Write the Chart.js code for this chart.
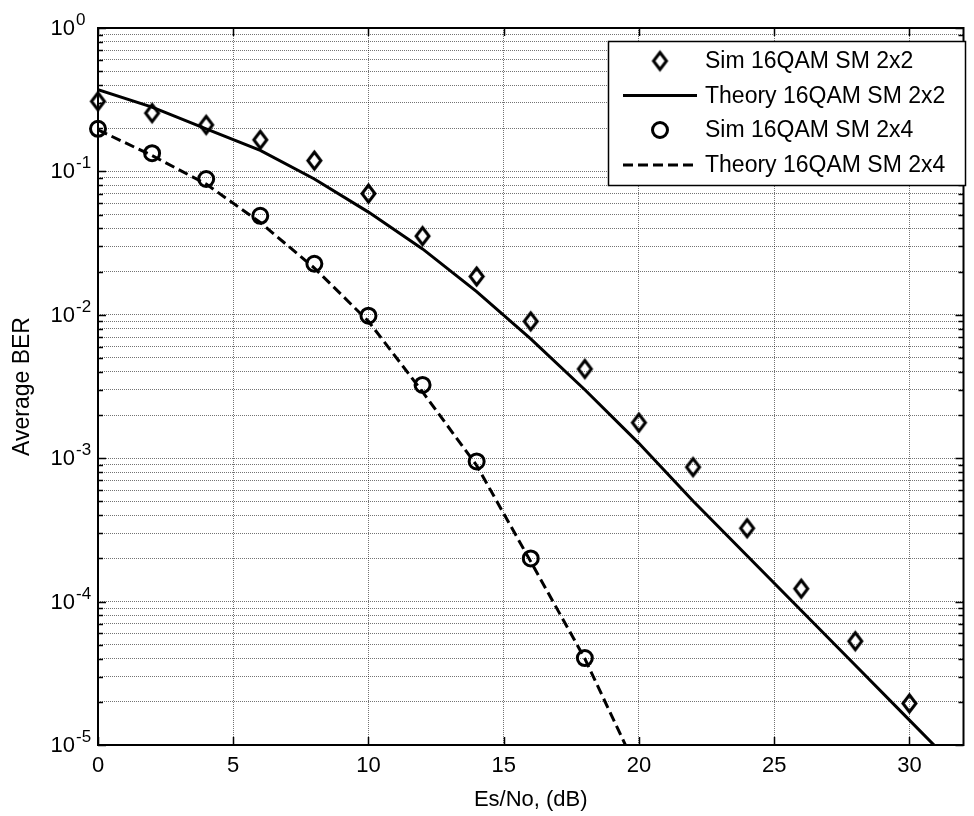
<!DOCTYPE html>
<html><head><meta charset="utf-8">
<script src="https://cdn.jsdelivr.net/npm/chart.js@4.4.0/dist/chart.umd.min.js"></script>
<style>html,body{margin:0;padding:0;background:#fff;}canvas{display:block;}</style>
</head><body>
<canvas id="c" width="974" height="816"></canvas>
<script>
// ---- data ----
const xSim2x2 = [0,2,4,6,8,10,12,14,16,18,20,22,24,26,28,30];
const ySim2x2 = [0.308,0.255,0.211,0.166,0.119,0.070,0.0354,0.0185,0.0090,0.00419,0.00177,8.67e-4,3.25e-4,1.23e-4,5.3e-5,1.95e-5];
const xTheory2x2 = [0,2,4,6,8,10,12,14,16,18,20,22,24,26,28,30,31];
const yTheory2x2 = [0.372,0.281,0.198,0.140,0.0885,0.052,0.0288,0.0145,0.0068,0.0030,0.00127,5.03e-4,2.09e-4,8.67e-5,3.6e-5,1.49e-5,9.6e-6];
const xSim2x4 = [0,2,4,6,8,10,12,14,16,18];
const ySim2x4 = [0.198,0.134,0.0885,0.049,0.0227,0.00986,0.00324,0.00095,2.0e-4,4.04e-5];
const xTheory2x4 = [0,2,4,6,8,10,12,14,16,18,20];
const yTheory2x4 = [0.195,0.129,0.0816,0.044,0.0212,0.009,0.0029,0.00089,1.9e-4,4.0e-5,6.3e-6];
const xTickValues = [0,5,10,15,20,25,30];
const yDecadeExponents = [0,-1,-2,-3,-4,-5];
const yMinorMultipliers = [2,3,4,5,6,7,8,9];
const seriesLabels = ['Sim 16QAM SM 2x2','Theory 16QAM SM 2x2','Sim 16QAM SM 2x4','Theory 16QAM SM 2x4'];
const xAxisTitle = 'Es/No, (dB)';
const yAxisTitle = 'Average BER';

const FONT = "'Liberation Sans', Arial, Helvetica, sans-serif";
Chart.defaults.font.family = FONT;

function pts(xs, ys){ return xs.map((x,i)=>({x:x, y:ys[i]})); }

function makeDiamond(w,h,lw){
  const c=document.createElement('canvas');
  c.width=w+lw*2+4; c.height=h+lw*2+4;
  const g=c.getContext('2d');
  const cx=c.width/2, cy=c.height/2;
  g.strokeStyle='#000'; g.lineWidth=lw; g.lineJoin='miter';
  g.beginPath();
  g.moveTo(cx,cy-h/2); g.lineTo(cx+w/2,cy); g.lineTo(cx,cy+h/2); g.lineTo(cx-w/2,cy);
  g.closePath(); g.stroke();
  return c;
}
const diamond = makeDiamond(13,17,3);

const DASH = [10,5];

const decor = {
  id:'decor',
  afterDraw(chart){
    const {ctx, chartArea:a, scales:{x,y}} = chart;
    ctx.save();
    // inner tick marks
    ctx.strokeStyle='#000'; ctx.lineWidth=1.5; ctx.setLineDash([]);
    ctx.beginPath();
    y.ticks.forEach(t=>{
      const py=Math.round(y.getPixelForValue(t.value))+0.5;
      const len = t.decade ? 8 : 5;
      ctx.moveTo(a.left,py); ctx.lineTo(a.left+len,py);
      ctx.moveTo(a.right,py); ctx.lineTo(a.right-len,py);
    });
    x.ticks.forEach(t=>{
      const px=Math.round(x.getPixelForValue(t.value))+0.5;
      ctx.moveTo(px,a.bottom); ctx.lineTo(px,a.bottom-8);
      ctx.moveTo(px,a.top); ctx.lineTo(px,a.top+8);
    });
    ctx.stroke();
    // frame
    ctx.lineWidth=2;
    ctx.strokeRect(a.left, a.top, a.right-a.left, a.bottom-a.top);
    // y tick labels 10^n
    ctx.fillStyle='#000';
    yDecadeExponents.forEach(e=>{
      const py=y.getPixelForValue(Math.pow(10,e));
      ctx.font='22px '+FONT; ctx.textAlign='right'; ctx.textBaseline='middle';
      ctx.fillText('10', a.left-23, py+1);
      ctx.font='17px '+FONT; ctx.textAlign='left'; ctx.textBaseline='alphabetic';
      ctx.fillText(String(e), a.left-22, py-3);
    });
    // legend
    const L={x0:608,y0:41,x1:965,y1:185,rows:[61,95.5,130,165],mx:660,l0:623,l1:697,tx:705};
    ctx.fillStyle='#fff';
    ctx.fillRect(L.x0,L.y0,L.x1-L.x0,L.y1-L.y0);
    ctx.strokeStyle='#000'; ctx.lineWidth=1.5;
    ctx.strokeRect(L.x0+0.5,L.y0+0.5,L.x1-L.x0,L.y1-L.y0);
    // row 1 diamond
    ctx.drawImage(diamond, L.mx-diamond.width/2, L.rows[0]-diamond.height/2);
    // row 2 solid line
    ctx.lineWidth=3; ctx.setLineDash([]);
    ctx.beginPath(); ctx.moveTo(L.l0,L.rows[1]); ctx.lineTo(L.l1,L.rows[1]); ctx.stroke();
    // row 3 circle
    ctx.beginPath(); ctx.arc(L.mx,L.rows[2],7.5,0,Math.PI*2); ctx.stroke();
    // row 4 dashed
    ctx.setLineDash(DASH);
    ctx.beginPath(); ctx.moveTo(L.l0,L.rows[3]); ctx.lineTo(L.l1,L.rows[3]); ctx.stroke();
    ctx.setLineDash([]);
    ctx.fillStyle='#000'; ctx.font='23px '+FONT; ctx.textAlign='left'; ctx.textBaseline='middle';
    seriesLabels.forEach((s,i)=>ctx.fillText(s, L.tx, L.rows[i]+1));
    ctx.restore();
  }
};

const gridCommon = {color:'rgba(0,0,0,0.55)', lineWidth:1, drawTicks:false};

new Chart(document.getElementById('c'), {
  type:'line',
  data:{ datasets:[
    {label:seriesLabels[1], data:pts(xTheory2x2,yTheory2x2), borderColor:'#000', borderWidth:3, pointRadius:0, fill:false, tension:0},
    {label:seriesLabels[3], data:pts(xTheory2x4,yTheory2x4), borderColor:'#000', borderWidth:3, borderDash:DASH, pointRadius:0, fill:false, tension:0},
    {label:seriesLabels[0], data:pts(xSim2x2,ySim2x2), showLine:false, pointStyle:diamond, pointRadius:9, borderColor:'#000', clip:false},
    {label:seriesLabels[2], data:pts(xSim2x4,ySim2x4), showLine:false, pointStyle:'circle', pointRadius:7.5, pointBorderWidth:3, pointBorderColor:'#000', pointBackgroundColor:'rgba(0,0,0,0)', borderColor:'#000', clip:false}
  ]},
  options:{
    responsive:false, animation:false, devicePixelRatio:1,
    layout:{padding:{top:28,right:1,left:0,bottom:0}},
    plugins:{legend:{display:false}, tooltip:{enabled:false}},
    scales:{
      x:{ type:'linear', min:0, max:32,
        afterBuildTicks(s){ s.ticks = xTickValues.map(v=>({value:v})); },
        afterFit(s){ s.height = 71; },
        ticks:{ font:{size:22}, color:'#000', padding:8, maxRotation:0, autoSkip:false },
        grid:gridCommon,
        border:{display:false, dash:[1,1]},
        title:{display:true, text:xAxisTitle, color:'#000', font:{size:22}, padding:{top:0,bottom:3}}
      },
      y:{ type:'logarithmic', min:1e-5, max:1,
        afterBuildTicks(s){
          const t=[];
          yDecadeExponents.slice().reverse().forEach(e=>{
            const b=Math.pow(10,e);
            t.push({value:b, decade:true});
            if(e<0) yMinorMultipliers.forEach(m=>t.push({value:m*b, decade:false}));
          });
          s.ticks=t;
        },
        afterFit(s){ s.width = 98; },
        ticks:{display:false},
        grid:gridCommon,
        border:{display:false, dash:[1,1]},
        title:{display:true, text:yAxisTitle, color:'#000', font:{size:23}, padding:{top:9,bottom:0}}
      }
    }
  },
  plugins:[decor]
});
</script>
</body></html>
